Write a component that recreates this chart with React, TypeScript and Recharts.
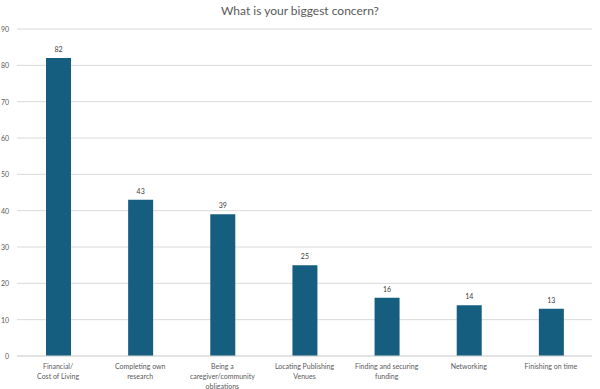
import { Bar, BarChart, CartesianGrid, LabelList, XAxis, YAxis } from "recharts";

const categories = [
  "Financial/\nCost of Living",
  "Completing own\nresearch",
  "Being a\ncaregiver/community\nobligations",
  "Locating Publishing\nVenues",
  "Finding and securing\nfunding",
  "Networking",
  "Finishing on time",
];
const counts = [82, 43, 39, 25, 16, 14, 13];
const yTicks = [0, 10, 20, 30, 40, 50, 60, 70, 80, 90];

const data = categories.map((c, i) => ({ name: c, value: counts[i] }));

const FONT = "Lato, 'Open Sans', sans-serif";

function XTick({ x, y, payload }: any) {
  const lines = String(payload.value).split("\n");
  return (
    <text x={x} y={y} textAnchor="middle" fontSize={7} fill="#595959" fontFamily={FONT}>
      {lines.map((l, i) => (
        <tspan key={i} x={x} dy={i === 0 ? 5 : 10}>
          {l}
        </tspan>
      ))}
    </text>
  );
}

function YTick({ y, payload }: any) {
  return (
    <text x={9} y={y} dy={3} textAnchor="end" fontSize={7} fill="#595959" fontFamily={FONT}>
      {payload.value}
    </text>
  );
}

export default function App() {
  return (
    <div style={{ position: "absolute", left: 0, top: 0, width: 600, height: 389, background: "#fff" }}>
      <div
        style={{
          position: "absolute",
          top: 3,
          width: 600,
          textAlign: "center",
          fontFamily: FONT,
          fontSize: 12,
          color: "#595959",
        }}
      >
        What is your biggest concern?
      </div>
      <BarChart
        width={600}
        height={389}
        data={data}
        margin={{ top: 29, right: 8, bottom: 0, left: 0 }}
        barSize={25}
      >
        <CartesianGrid vertical={false} stroke="#d9d9d9" />
        <XAxis
          dataKey="name"
          interval={0}
          tick={<XTick />}
          tickLine={false}
          axisLine={{ stroke: "#d9d9d9" }}
          height={33}
        />
        <YAxis
          width={17}
          domain={[0, 90]}
          ticks={yTicks}
          tick={<YTick />}
          tickLine={false}
          axisLine={false}
        />
        <Bar dataKey="value" fill="#155e80" isAnimationActive={false}>
          <LabelList dataKey="value" position="top" offset={6} fontSize={7} fill="#404040" fontFamily={FONT} />
        </Bar>
      </BarChart>
    </div>
  );
}
